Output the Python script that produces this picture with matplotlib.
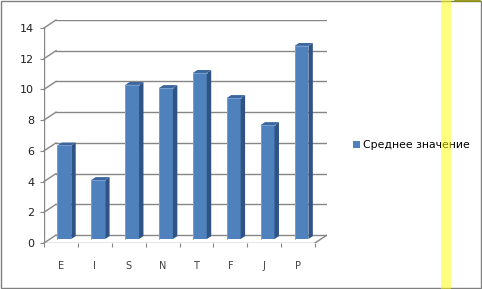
import matplotlib
matplotlib.use("Agg")
import matplotlib.pyplot as plt
from matplotlib.patches import Polygon, Rectangle, Patch
import numpy as np

categories = ["E", "I", "S", "N", "T", "F", "J", "P"]
values = [6.09, 3.84, 10.03, 9.83, 10.81, 9.18, 7.42, 12.57]
series_name = "Среднее значение"
yticks = [0, 2, 4, 6, 8, 10, 12, 14]

W, H = 482, 289
fig = plt.figure(figsize=(W / 100, H / 100), dpi=100)
fig.patch.set_facecolor("white")

# plot region in pixels
L_px, R_px, B_px, T_px = 44, 327, 243, 20
ax = fig.add_axes([L_px / W, 1 - B_px / H, (R_px - L_px) / W, (B_px - T_px) / H])
ax.set_facecolor("none")
n = len(categories)
DX = 0.3542   # depth offset, category units
DY = 0.518    # depth offset, value units
ax.set_xlim(-0.5, n - 0.5 + DX)
ax.set_ylim(0, 14 + DY)
for s in ax.spines.values():
    s.set_visible(False)

grid_c = "#868686"
# back wall gridlines and left wall diagonals
for v in yticks:
    ax.plot([-0.5 + DX, n - 0.5 + DX], [v + DY, v + DY], color=grid_c, lw=1, zorder=1)
    ax.plot([-0.5, -0.5 + DX], [v, v + DY], color=grid_c, lw=1, zorder=1, clip_on=False)
# front axis line
ax.plot([-0.5, -0.5], [0, 14], color=grid_c, lw=1, zorder=1)
# floor
ax.plot([-0.5, n - 0.5], [0, 0], color=grid_c, lw=1, zorder=1)
ax.plot([n - 0.5, n - 0.5 + DX], [0, DY], color=grid_c, lw=1, zorder=1)

# y ticks
ax.set_yticks(yticks)
ax.set_yticklabels([str(t) for t in yticks])
ax.tick_params(axis="y", direction="out", length=3, width=0.8, color=grid_c,
               labelsize=8, labelcolor="#202020", pad=4)
# x ticks
ax.set_xticks(np.arange(n))
ax.set_xticklabels(categories)
ax.set_xticks(np.arange(n + 1) - 0.5, minor=True)
ax.tick_params(axis="x", which="major", length=0, labelsize=7, labelcolor="#404040", pad=13)
ax.tick_params(axis="x", which="minor", direction="out", length=3, width=0.8, color=grid_c)

# bars (front faces)
bw = 0.41
bx, by = 0.1, 0.26
ddx, ddy = 0.131, 0.19
x = np.arange(n) + bx
bars = ax.bar(x, values, width=bw, bottom=by, color="#4f81bd", edgecolor="none",
              zorder=3, label=series_name)
for rect, v in zip(bars, values):
    x0 = rect.get_x()
    x1 = x0 + rect.get_width()
    y0 = rect.get_y()
    y1 = y0 + rect.get_height()
    side = Polygon([[x1, y0], [x1 + ddx, y0 + ddy], [x1 + ddx, y1 + ddy], [x1, y1]],
                   closed=True, facecolor="#2f5384", edgecolor="none", zorder=3)
    top = Polygon([[x0, y1], [x0 + ddx, y1 + ddy], [x1 + ddx, y1 + ddy], [x1, y1]],
                  closed=True, facecolor="#3b679e", edgecolor="none", zorder=3)
    ax.add_patch(side)
    ax.add_patch(top)
    ax.plot([x0, x1], [y1, y1], color="#7fa3d3", lw=0.6, zorder=4)
    ax.plot([x0, x0], [y0, y1], color="#7fa3d3", lw=0.6, zorder=4)

# legend
leg = fig.legend(handles=[Patch(facecolor="#4f81bd", edgecolor="none", label=series_name)],
                 loc="center left", bbox_to_anchor=(353 / W, 1 - 145 / H),
                 frameon=False, fontsize=7.8, handlelength=0.65, handleheight=0.65,
                 handletextpad=0.3, borderpad=0, borderaxespad=0)
for t in leg.get_texts():
    t.set_color("#000000")

# overlay for border and highlight stripe
ov = fig.add_axes([0, 0, 1, 1], zorder=10)
ov.set_xlim(0, W)
ov.set_ylim(H, 0)
ov.axis("off")
ov.set_facecolor("none")
ov.add_patch(Rectangle((1, 1), 480, 286.5, fill=False, edgecolor="#808080", lw=1))
ov.plot([455, 480], [1, 1], color="#8c8c00", lw=1.2)
ov.add_patch(Rectangle((441, 0), 10, H, facecolor="#ffff00", alpha=0.5, edgecolor="none"))

fig.savefig("out.png", dpi=100)
